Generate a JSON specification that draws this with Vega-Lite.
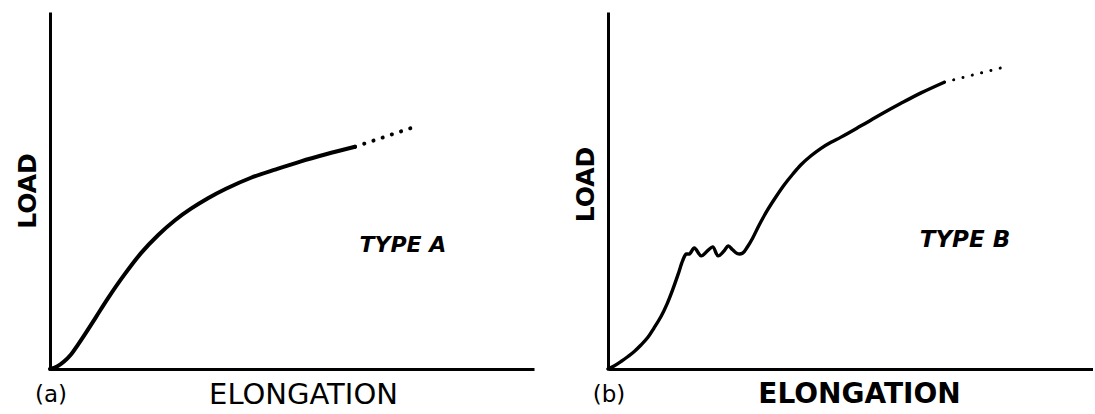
{
  "$schema": "https://vega.github.io/schema/vega-lite/v6.json",
  "background": "white",
  "padding": {"left": 15, "top": 12, "right": 0, "bottom": 3},
  "config": {
    "view": {"stroke": null},
    "concat": {"spacing": 39},
    "axis": {"grid": false, "ticks": false, "labels": false, "domainColor": "black", "domainWidth": 3, "titleColor": "black", "titleFont": "DejaVu Sans"}
  },
  "datasets": {
    "curves": [
      {"panel": "a", "seg": "solid", "x": 0, "y": 0},
      {"panel": "a", "seg": "solid", "x": 1.45, "y": 0.7},
      {"panel": "a", "seg": "solid", "x": 2.9, "y": 2.1},
      {"panel": "a", "seg": "solid", "x": 4.34, "y": 4.06},
      {"panel": "a", "seg": "solid", "x": 5.79, "y": 6.85},
      {"panel": "a", "seg": "solid", "x": 7.44, "y": 10.21},
      {"panel": "a", "seg": "solid", "x": 9.5, "y": 14.55},
      {"panel": "a", "seg": "solid", "x": 12.0, "y": 19.86},
      {"panel": "a", "seg": "solid", "x": 15.29, "y": 26.29},
      {"panel": "a", "seg": "solid", "x": 18.8, "y": 32.45},
      {"panel": "a", "seg": "solid", "x": 22.31, "y": 37.48},
      {"panel": "a", "seg": "solid", "x": 25.83, "y": 41.68},
      {"panel": "a", "seg": "solid", "x": 29.13, "y": 44.9},
      {"panel": "a", "seg": "solid", "x": 32.64, "y": 47.83},
      {"panel": "a", "seg": "solid", "x": 36.36, "y": 50.49},
      {"panel": "a", "seg": "solid", "x": 41.53, "y": 53.57},
      {"panel": "a", "seg": "solid", "x": 46.69, "y": 55.94},
      {"panel": "a", "seg": "solid", "x": 51.86, "y": 58.18},
      {"panel": "a", "seg": "solid", "x": 57.02, "y": 60.14},
      {"panel": "a", "seg": "solid", "x": 63.02, "y": 62.24},
      {"panel": "a", "seg": "dot", "x": 63.02, "y": 62.24},
      {"panel": "a", "seg": "dot", "x": 74.6, "y": 67.5},
      {"panel": "b", "seg": "solid", "x": 0, "y": 0},
      {"panel": "b", "seg": "solid", "x": 1.24, "y": 0.84},
      {"panel": "b", "seg": "solid", "x": 2.68, "y": 2.1},
      {"panel": "b", "seg": "solid", "x": 4.12, "y": 3.5},
      {"panel": "b", "seg": "solid", "x": 5.42, "y": 4.9},
      {"panel": "b", "seg": "solid", "x": 6.8, "y": 6.71},
      {"panel": "b", "seg": "solid", "x": 8.19, "y": 8.81},
      {"panel": "b", "seg": "solid", "x": 9.48, "y": 11.47},
      {"panel": "b", "seg": "solid", "x": 10.93, "y": 14.69},
      {"panel": "b", "seg": "solid", "x": 12.16, "y": 18.18},
      {"panel": "b", "seg": "solid", "x": 13.34, "y": 22.24},
      {"panel": "b", "seg": "solid", "x": 14.43, "y": 26.43},
      {"panel": "b", "seg": "solid", "x": 15.4, "y": 30.35},
      {"panel": "b", "seg": "solid", "x": 16.1, "y": 32.2},
      {"panel": "b", "seg": "solid", "x": 16.8, "y": 32.2},
      {"panel": "b", "seg": "solid", "x": 17.8, "y": 33.9},
      {"panel": "b", "seg": "solid", "x": 19.2, "y": 31.7},
      {"panel": "b", "seg": "solid", "x": 20.6, "y": 33.2},
      {"panel": "b", "seg": "solid", "x": 21.6, "y": 34.2},
      {"panel": "b", "seg": "solid", "x": 22.7, "y": 31.7},
      {"panel": "b", "seg": "solid", "x": 24.0, "y": 33.2},
      {"panel": "b", "seg": "solid", "x": 24.8, "y": 34.5},
      {"panel": "b", "seg": "solid", "x": 25.7, "y": 33.4},
      {"panel": "b", "seg": "solid", "x": 26.7, "y": 32.3},
      {"panel": "b", "seg": "solid", "x": 27.8, "y": 32.5},
      {"panel": "b", "seg": "solid", "x": 28.8, "y": 34.3},
      {"panel": "b", "seg": "solid", "x": 29.84, "y": 36.7},
      {"panel": "b", "seg": "solid", "x": 31.2, "y": 40.42},
      {"panel": "b", "seg": "solid", "x": 32.93, "y": 44.62},
      {"panel": "b", "seg": "solid", "x": 34.64, "y": 48.25},
      {"panel": "b", "seg": "solid", "x": 36.35, "y": 51.61},
      {"panel": "b", "seg": "solid", "x": 38.08, "y": 54.55},
      {"panel": "b", "seg": "solid", "x": 39.79, "y": 57.2},
      {"panel": "b", "seg": "solid", "x": 41.86, "y": 59.72},
      {"panel": "b", "seg": "solid", "x": 43.92, "y": 61.82},
      {"panel": "b", "seg": "solid", "x": 45.98, "y": 63.5},
      {"panel": "b", "seg": "solid", "x": 48.04, "y": 64.95},
      {"panel": "b", "seg": "solid", "x": 52.16, "y": 68.11},
      {"panel": "b", "seg": "solid", "x": 56.29, "y": 71.33},
      {"panel": "b", "seg": "solid", "x": 60.41, "y": 74.41},
      {"panel": "b", "seg": "solid", "x": 64.54, "y": 77.34},
      {"panel": "b", "seg": "solid", "x": 69.34, "y": 80.34},
      {"panel": "b", "seg": "dot", "x": 69.34, "y": 80.34},
      {"panel": "b", "seg": "dot", "x": 80.9, "y": 84.3}
    ],
    "labels": [
      {"panel": "a", "kind": "tag", "text": "(a)", "x": 0.2, "y": -7.4},
      {"panel": "a", "kind": "type", "text": "TYPE A", "x": 72.9, "y": 34.6},
      {"panel": "b", "kind": "tag", "text": "(b)", "x": 0.2, "y": -7.4},
      {"panel": "b", "kind": "type", "text": "TYPE B", "x": 73.6, "y": 36.0}
    ]
  },
  "hconcat": [
    {
      "width": 484,
      "height": 357,
      "encoding": {
        "x": {"field": "x", "type": "quantitative", "scale": {"domain": [0, 100], "nice": false, "zero": false},
              "axis": {"title": "ELONGATION", "titleFontSize": 29, "titleFontWeight": "normal", "titlePadding": 11, "titleX": 253}},
        "y": {"field": "y", "type": "quantitative", "scale": {"domain": [0, 100], "nice": false, "zero": false},
              "axis": {"title": "LOAD", "titleFontSize": 25, "titleFontWeight": "bold", "titlePadding": 10}}
      },
      "layer": [
        {"data": {"name": "curves"}, "transform": [{"filter": "datum.panel === 'a' && datum.seg === 'solid'"}],
         "mark": {"type": "line", "color": "black", "strokeWidth": 4, "strokeCap": "round", "interpolate": "catmull-rom"}},
        {"data": {"name": "curves"}, "transform": [{"filter": "datum.panel === 'a' && datum.seg === 'dot'"}],
         "mark": {"type": "line", "color": "black", "strokeWidth": 4, "strokeCap": "round", "strokeDash": [0.1, 9.6]}},
        {"data": {"name": "labels"}, "transform": [{"filter": "datum.panel === 'a' && datum.kind === 'tag'"}],
         "mark": {"type": "text", "color": "black", "font": "DejaVu Sans", "fontSize": 23, "align": "center", "baseline": "middle"},
         "encoding": {"text": {"field": "text"}}},
        {"data": {"name": "labels"}, "transform": [{"filter": "datum.panel === 'a' && datum.kind === 'type'"}],
         "mark": {"type": "text", "color": "black", "font": "DejaVu Sans", "fontSize": 22, "fontWeight": "bold", "fontStyle": "italic", "align": "center", "baseline": "middle"},
         "encoding": {"text": {"field": "text"}}}
      ]
    },
    {
      "width": 485,
      "height": 357,
      "encoding": {
        "x": {"field": "x", "type": "quantitative", "scale": {"domain": [0, 100], "nice": false, "zero": false},
              "axis": {"title": "ELONGATION", "titleFontSize": 28, "titleFontWeight": "bold", "titlePadding": 11, "titleX": 251}},
        "y": {"field": "y", "type": "quantitative", "scale": {"domain": [0, 100], "nice": false, "zero": false},
              "axis": {"title": "LOAD", "titleFontSize": 25, "titleFontWeight": "bold", "titlePadding": 10, "titleY": 172}}
      },
      "layer": [
        {"data": {"name": "curves"}, "transform": [{"filter": "datum.panel === 'b' && datum.seg === 'solid'"}],
         "mark": {"type": "line", "color": "black", "strokeWidth": 3.4, "strokeCap": "round", "strokeJoin": "round", "interpolate": "catmull-rom"}},
        {"data": {"name": "curves"}, "transform": [{"filter": "datum.panel === 'b' && datum.seg === 'dot'"}],
         "mark": {"type": "line", "color": "black", "strokeWidth": 3, "strokeCap": "round", "strokeDash": [0.1, 9.5]}},
        {"data": {"name": "labels"}, "transform": [{"filter": "datum.panel === 'b' && datum.kind === 'tag'"}],
         "mark": {"type": "text", "color": "black", "font": "DejaVu Sans", "fontSize": 23, "align": "center", "baseline": "middle"},
         "encoding": {"text": {"field": "text"}}},
        {"data": {"name": "labels"}, "transform": [{"filter": "datum.panel === 'b' && datum.kind === 'type'"}],
         "mark": {"type": "text", "color": "black", "font": "DejaVu Sans", "fontSize": 23, "fontWeight": "bold", "fontStyle": "italic", "align": "center", "baseline": "middle"},
         "encoding": {"text": {"field": "text"}}}
      ]
    }
  ]
}
